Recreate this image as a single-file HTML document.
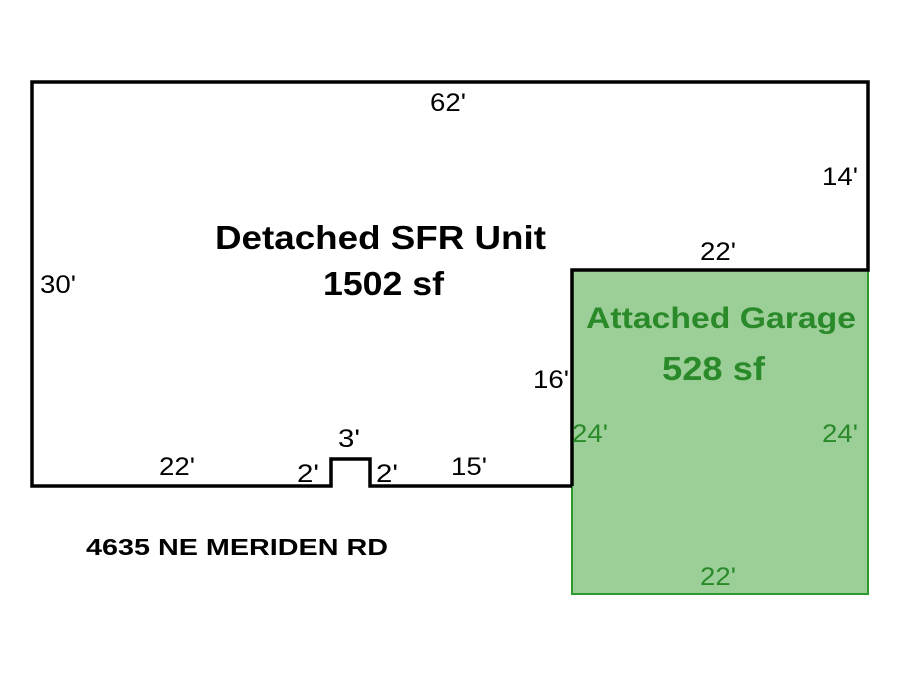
<!DOCTYPE html>
<html><head><style>body{margin:0;background:#fff}</style></head><body>
<svg width="900" height="675" xmlns="http://www.w3.org/2000/svg" font-family="Liberation Sans, Arial, sans-serif">
<rect x="572" y="270" width="296" height="324" fill="#9ccf98" stroke="#2e9a2e" stroke-width="2"/>
<polyline points="572,486 370,486 370,459 331,459 331,486 32,486 32,82 868,82 868,270 572,270 572,486" fill="none" stroke="#000" stroke-width="3.5"/>
<g font-size="25" fill="#000">
<text x="430" y="111" textLength="36" lengthAdjust="spacingAndGlyphs">62'</text>
<text x="822" y="185" textLength="36" lengthAdjust="spacingAndGlyphs">14'</text>
<text x="700" y="260" textLength="36" lengthAdjust="spacingAndGlyphs">22'</text>
<text x="40" y="293" textLength="36" lengthAdjust="spacingAndGlyphs">30'</text>
<text x="533" y="388" textLength="36" lengthAdjust="spacingAndGlyphs">16'</text>
<text x="338" y="447" textLength="22" lengthAdjust="spacingAndGlyphs">3'</text>
<text x="159" y="475" textLength="36" lengthAdjust="spacingAndGlyphs">22'</text>
<text x="297" y="482" textLength="22" lengthAdjust="spacingAndGlyphs">2'</text>
<text x="376" y="482" textLength="22" lengthAdjust="spacingAndGlyphs">2'</text>
<text x="451" y="475" textLength="36" lengthAdjust="spacingAndGlyphs">15'</text>
</g>
<g font-size="25" fill="#2a8a2a">
<text x="572" y="442" textLength="36" lengthAdjust="spacingAndGlyphs">24'</text>
<text x="822" y="442" textLength="36" lengthAdjust="spacingAndGlyphs">24'</text>
<text x="700" y="585" textLength="36" lengthAdjust="spacingAndGlyphs">22'</text>
</g>
<g font-weight="bold">
<text x="215" y="249" font-size="33" textLength="331" lengthAdjust="spacingAndGlyphs">Detached SFR Unit</text>
<text x="323" y="295" font-size="33" textLength="121" lengthAdjust="spacingAndGlyphs">1502 sf</text>
<text x="586" y="328" font-size="30" fill="#2a8a2a" textLength="270" lengthAdjust="spacingAndGlyphs">Attached Garage</text>
<text x="662" y="380" font-size="33" fill="#2a8a2a" textLength="103" lengthAdjust="spacingAndGlyphs">528 sf</text>
<text x="86" y="555" font-size="23" textLength="302" lengthAdjust="spacingAndGlyphs">4635 NE MERIDEN RD</text>
</g>
</svg>
</body></html>
